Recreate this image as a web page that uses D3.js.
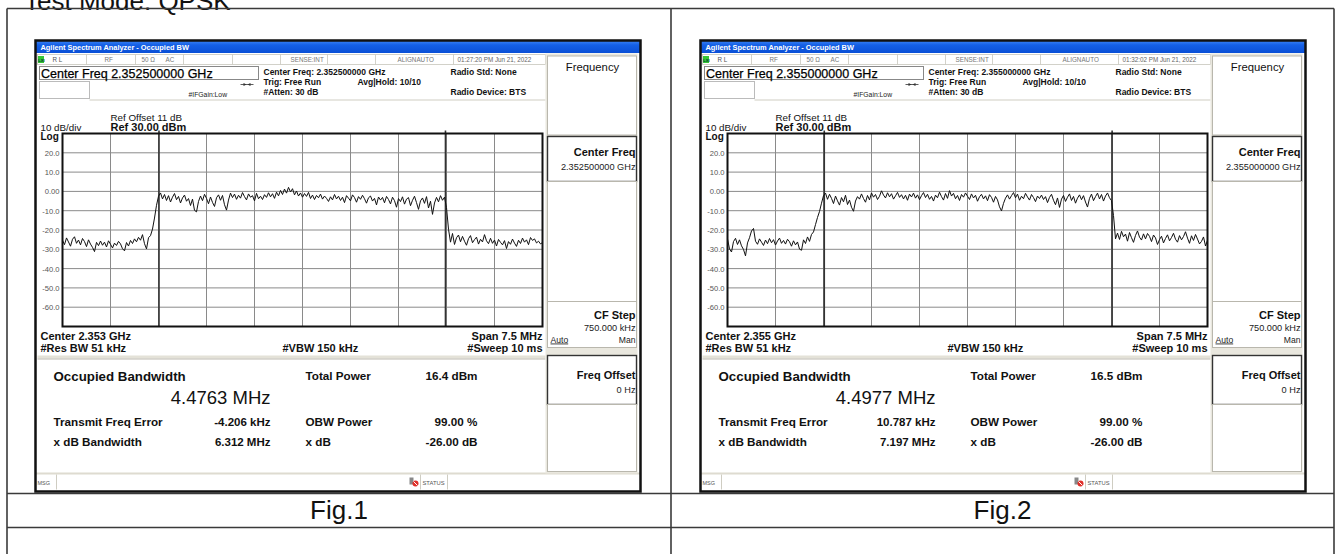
<!DOCTYPE html>
<html><head><meta charset="utf-8">
<script src="https://cdn.jsdelivr.net/npm/d3@7"></script>
<style>
body{margin:0;background:#fff;}
svg{display:block;}
text{font-family:"Liberation Sans",Arial,sans-serif;}
</style>
</head><body>
<svg id="c" width="1338" height="554"></svg>
<script>
// ---------------- data ----------------
const pageTitle = "Test Mode: QPSK";
const figLabels = ["Fig.1", "Fig.2"];
const centerFreqText = ["2.352500000", "2.355000000"];
const centerShortText = ["2.353", "2.355"];
const timestamps = ["01:27:20 PM Jun 21, 2022", "01:32:02 PM Jun 21, 2022"];
const spanMHz = 7.5;
const yDomain = [-70, 30];
const yTicks = [20, 10, 0, -10, -20, -30, -40, -50, -60];
const yTickLabels = ["20.0", "10.0", "0.00", "-10.0", "-20.0", "-30.0", "-40.0", "-50.0", "-60.0"];
const obwMHz = [4.4763, 4.4977];
const obwText = ["4.4763 MHz", "4.4977 MHz"];
const freqErrKHz = [-4.206, 10.787];
const freqErrText = ["-4.206 kHz", "10.787 kHz"];
const xdbBwText = ["6.312 MHz", "7.197 MHz"];
const totalPowerText = ["16.4 dBm", "16.5 dBm"];
const obwPowerText = "99.00 %";
const xdbText = "-26.00 dB";

// trace levels in dBm, 241 sweep points across the span
const trace1 = [
 -25.3,-27.6,-24.1,-26.2,-28.4,-24.8,-23.5,-26.9,-25.2,-27.7,
 -24.4,-26.0,-28.6,-25.1,-27.3,-29.0,-31.2,-26.4,-28.1,-25.7,
 -27.9,-26.3,-28.8,-25.6,-27.4,-29.3,-26.8,-28.0,-25.9,-27.2,
 -29.7,-30.8,-26.5,-28.3,-25.4,-27.0,-24.6,-26.1,-23.8,-25.3,
 -22.4,-27.1,-29.8,-24.0,-22.9,
 -19.5,-13.8,-7.2,-2.5,
 -0.8,-3.9,-1.6,-4.7,-2.2,-5.5,-3.0,-1.1,-4.3,-2.6,
 -6.0,-3.4,-1.9,-5.1,-3.7,-7.3,-4.0,-9.8,-10.6,-5.2,
 -2.4,-4.8,-1.5,-3.6,-6.4,-2.9,-5.7,-7.8,-3.3,-1.8,
 -4.6,-2.1,-6.9,-9.7,-4.5,-0.9,-3.2,-1.4,-4.1,-2.0,
 -3.5,-0.6,-2.7,-4.4,-1.3,-3.0,-2.2,-4.9,-1.0,-3.8,
 -2.5,-4.2,-1.7,-3.1,-0.7,-2.8,-1.2,-3.6,-0.4,-2.3,
 0.5,-1.6,1.2,-0.9,2.1,-0.3,1.4,-1.8,0.2,-2.4,
 -0.8,-3.0,-1.1,-2.6,-0.5,-3.7,-1.9,-4.2,-2.1,-3.3,
 -1.4,-4.0,-2.4,-3.6,-5.2,-2.8,-4.4,-1.6,-3.9,-2.5,
 -4.7,-3.0,-5.8,-2.2,-3.5,-4.9,-1.8,-3.2,-5.6,-2.7,
 -4.1,-2.0,-3.8,-6.1,-3.3,-2.4,-5.0,-3.6,-7.0,-2.9,
 -4.5,-3.1,-5.9,-2.6,-4.2,-6.5,-3.0,-4.8,-8.2,-3.7,
 -5.3,-2.8,-6.6,-4.0,-3.2,-7.4,-4.6,-2.5,-5.8,-9.3,
 -4.9,-3.4,-6.2,-2.7,-8.6,-5.1,-11.9,-6.0,-3.1,-5.4,
 -2.2,-4.6,-3.0,
 -8.4,-19.6,-26.3,
 -21.8,-27.5,-24.0,-22.6,-26.1,-23.3,-25.8,-27.9,-24.5,-22.9,
 -26.6,-25.0,-23.7,-27.3,-24.8,-26.2,-22.4,-25.6,-27.1,-24.3,
 -26.9,-25.2,-28.3,-24.9,-26.4,-27.7,-25.5,-29.6,-26.0,-27.4,
 -24.7,-26.8,-28.5,-25.3,-27.0,-24.2,-26.3,-25.1,-27.6,-23.9,
 -25.4,-24.6,-26.7,-25.8,-27.2,-26.5
];
const trace2 = [
 -24.6,-29.8,-31.4,-26.0,-24.3,-27.5,-25.1,-28.2,-30.1,-33.4,
 -26.7,-24.0,-20.5,-19.2,-25.8,-27.4,-24.6,-26.3,-28.0,-25.2,
 -27.1,-24.4,-26.6,-25.0,-27.8,-25.7,-24.2,-26.9,-25.4,-27.3,
 -24.8,-26.1,-28.4,-25.6,-27.7,-26.2,-29.9,-30.5,-25.1,-27.0,
 -23.6,-25.9,-22.3,
 -21.0,-17.2,-13.5,-10.4,-6.1,
 -2.2,-0.9,-4.1,-1.5,-3.6,-6.3,-2.4,-4.9,-7.1,-3.2,
 -5.4,-2.0,-6.8,-4.5,-8.2,-10.3,-5.0,-2.7,-4.0,-1.3,
 -3.7,-5.6,-2.1,-4.4,-0.8,-3.0,-1.6,-4.2,-2.5,0.3,
 -1.9,-3.4,-0.7,-2.8,-1.2,-4.0,-2.3,-0.5,-3.1,-1.7,
 -3.9,-2.0,-4.6,-1.4,-2.9,-0.9,-3.5,-1.8,-4.3,-2.2,
 -0.6,-3.2,-1.5,-4.1,-2.6,-5.0,-1.9,-3.3,-0.4,-2.7,
 -4.5,-1.1,-3.6,0.4,-2.4,-1.0,-3.8,-2.1,-4.7,-1.6,
 -3.0,-0.8,-2.5,-4.2,-1.3,-3.4,-2.0,-5.1,-2.8,-1.5,
 -3.9,-2.3,-4.8,-1.7,-3.1,-5.6,-2.6,-4.4,-8.0,-10.1,
 -6.2,-3.5,-1.8,-4.0,-2.2,-0.6,-3.3,-1.4,-4.6,-2.5,
 -3.8,-1.0,-2.9,-4.5,-1.6,-3.2,-5.3,-2.4,-3.7,-1.9,
 -4.2,-2.7,-5.8,-3.1,-1.5,-4.6,-6.9,-3.4,-8.3,-4.0,
 -2.1,-5.2,-3.0,-1.3,-4.7,-2.6,-6.1,-3.5,-1.8,-4.3,
 -2.2,-5.5,-8.1,-3.6,-1.4,-4.8,-2.7,-0.9,-3.9,-1.6,
 -5.0,-2.4,-0.8,-3.3,
 -4.8,-12.5,-24.6,
 -21.6,-24.9,-20.7,-23.5,-22.1,-25.8,-21.3,-24.0,-26.4,-22.8,
 -20.5,-23.7,-25.2,-22.0,-24.6,-21.8,-23.3,-26.0,-22.6,-24.1,
 -27.5,-25.0,-23.2,-26.7,-24.4,-22.5,-25.6,-23.9,-21.7,-24.8,
 -26.3,-22.9,-25.1,-23.4,-20.9,-24.2,-26.9,-23.0,-25.4,-22.3,
 -24.7,-27.2,-25.9,-23.6,-28.3,-25.3
];
const traces = [trace1, trace2];

// ---------------- page & table ----------------
const svg = d3.select("#c");
svg.append("text").attr("x", 24).attr("y", 10).attr("font-size", 26).attr("fill", "#111").text(pageTitle);

const T = {l: 7, r: 1334, t: 8.5, mid: 671, r1: 493.5, r2: 527.5, b: 560};
const tg = svg.append("g").attr("stroke", "#3a3a3a").attr("stroke-width", 1.6).attr("fill", "none");
tg.append("line").attr("x1", T.l).attr("x2", T.r).attr("y1", T.t).attr("y2", T.t);
tg.append("line").attr("x1", T.l).attr("x2", T.r).attr("y1", T.r1).attr("y2", T.r1);
tg.append("line").attr("x1", T.l).attr("x2", T.r).attr("y1", T.r2).attr("y2", T.r2);
[T.l, T.mid, T.r].forEach(x => tg.append("line").attr("x1", x).attr("x2", x).attr("y1", T.t).attr("y2", T.b));

figLabels.forEach((f, k) => {
  const cx = k === 0 ? (T.l + T.mid) / 2 : (T.mid + T.r) / 2;
  svg.append("text").attr("x", cx).attr("y", 519).attr("text-anchor", "middle")
     .attr("font-size", 26).attr("fill", "#111").text(f);
});

// ---------------- gradient ----------------
const defs = svg.append("defs");
const grad = defs.append("linearGradient").attr("id", "tb").attr("x1", 0).attr("x2", 0).attr("y1", 0).attr("y2", 1);
grad.append("stop").attr("offset", "0%").attr("stop-color", "#3d86f5");
grad.append("stop").attr("offset", "35%").attr("stop-color", "#1560e6");
grad.append("stop").attr("offset", "100%").attr("stop-color", "#0a4fd6");

function txt(g, x, y, s, size, opts = {}) {
  const t = g.append("text").attr("x", x).attr("y", y).attr("font-size", size)
    .attr("fill", opts.fill || "#111").text(s);
  if (opts.bold) t.attr("font-weight", "bold");
  if (opts.anchor) t.attr("text-anchor", opts.anchor);
  if (opts.deco) t.attr("text-decoration", opts.deco);
  return t;
}

function drawScreen(x0, y0, k) {
  const W = 605, H = 451;
  const g = svg.append("g").attr("transform", `translate(${x0},${y0})`);
  g.append("rect").attr("width", W).attr("height", H).attr("fill", "#fff");

  // title bar
  g.append("rect").attr("x", 0).attr("y", 0).attr("width", W).attr("height", 12.5).attr("fill", "url(#tb)");
  txt(g, 5, 9.3, "Agilent Spectrum Analyzer - Occupied BW", 7.4, {bold: true, fill: "#fff"});

  // status row
  const sr = g.append("g");
  sr.append("rect").attr("x", 2).attr("y", 14).attr("width", 508).attr("height", 10).attr("fill", "#fff").attr("stroke", "#c8c6bc").attr("stroke-width", 0.8);
  sr.append("rect").attr("x", 2.5).attr("y", 15.5).attr("width", 6).attr("height", 7).attr("fill", "#36c636");
  txt(sr, 2.8, 21.5, "LXI", 4, {bold: true, fill: "#033"});
  const sty = {fill: "#777"};
  txt(sr, 17, 21.8, "R L", 6.3, {fill: "#555"});
  txt(sr, 69, 21.8, "RF", 6.3, sty);
  txt(sr, 106, 21.8, "50 Ω", 6.3, sty);
  txt(sr, 130, 21.8, "AC", 6.3, sty);
  txt(sr, 255, 21.8, "SENSE:INT", 6.3, sty);
  txt(sr, 362, 21.8, "ALIGNAUTO", 6.3, sty);
  txt(sr, 422, 21.8, timestamps[k], 6.3, {fill: "#666"});
  [51, 100, 148, 197, 245, 292, 340, 418].forEach(x =>
    sr.append("line").attr("x1", x).attr("x2", x).attr("y1", 14).attr("y2", 24).attr("stroke", "#c8c6bc").attr("stroke-width", 0.8));

  // center freq box
  g.append("rect").attr("x", 4).attr("y", 26).attr("width", 219).attr("height", 13).attr("fill", "#fff").attr("stroke", "#888").attr("stroke-width", 1);
  txt(g, 5.5, 37.2, `Center Freq ${centerFreqText[k]} GHz`, 12.5, {fill: "#000"}).attr("stroke", "#000").attr("stroke-width", 0.25);
  g.append("rect").attr("x", 4).attr("y", 41).attr("width", 50).attr("height", 17).attr("fill", "#fff").attr("stroke", "#bbb").attr("stroke-width", 1);
  txt(g, 153, 56, "#IFGain:Low", 6.8, {fill: "#222"});
  g.append("line").attr("x1", 205).attr("x2", 218).attr("y1", 44).attr("y2", 44).attr("stroke", "#333").attr("stroke-width", 0.8);
  g.append("path").attr("d", "M208,42.5 L211,44 L208,45.5 Z M215,42.5 L212,44 L215,45.5 Z").attr("fill", "#333");

  txt(g, 228, 34, `Center Freq: ${centerFreqText[k]} GHz`, 8.5, {bold: true});
  txt(g, 228, 44, "Trig: Free Run", 8.5, {bold: true});
  txt(g, 322, 44, "Avg|Hold: 10/10", 8.5, {bold: true});
  txt(g, 228, 54, "#Atten: 30 dB", 8.5, {bold: true});
  txt(g, 415, 34, "Radio Std: None", 8.5, {bold: true});
  txt(g, 415, 54, "Radio Device: BTS", 8.5, {bold: true});
  g.append("line").attr("x1", 54).attr("x2", 510).attr("y1", 59.5).attr("y2", 59.5).attr("stroke", "#cfcdc2").attr("stroke-width", 1);

  // ref labels
  txt(g, 75, 80, "Ref Offset 11 dB", 9.8);
  txt(g, 5, 90.5, "10 dB/div", 9.8);
  txt(g, 75, 90.5, "Ref 30.00 dBm", 11, {bold: true});
  txt(g, 5, 99, "Log", 10, {bold: true});

  // plot
  const P = {l: 27, r: 507, t: 93, b: 286};
  const x = d3.scaleLinear().domain([-spanMHz / 2, spanMHz / 2]).range([P.l, P.r]);
  const y = d3.scaleLinear().domain(yDomain).range([P.b, P.t]);
  const pg = g.append("g");
  pg.append("rect").attr("x", P.l).attr("y", P.t).attr("width", P.r - P.l).attr("height", P.b - P.t).attr("fill", "#fff");
  const vgrid = d3.range(1, 10).map(i => -spanMHz / 2 + i * spanMHz / 10);
  pg.selectAll(".vg").data(vgrid).join("line")
    .attr("x1", d => x(d)).attr("x2", d => x(d)).attr("y1", P.t).attr("y2", P.b)
    .attr("stroke", "#8a8a8a").attr("stroke-width", 1);
  pg.selectAll(".hg").data(yTicks).join("line")
    .attr("x1", P.l).attr("x2", P.r).attr("y1", d => y(d)).attr("y2", d => y(d))
    .attr("stroke", "#8a8a8a").attr("stroke-width", 1);
  // OBW markers
  const c = freqErrKHz[k] / 1000;
  [c - obwMHz[k] / 2, c + obwMHz[k] / 2].forEach(f =>
    pg.append("line").attr("x1", x(f)).attr("x2", x(f)).attr("y1", P.t - 3).attr("y2", P.b)
      .attr("stroke", "#333").attr("stroke-width", 1.6));
  // y tick labels
  yTicks.forEach((t, i) => txt(g, 24, y(t) + 3, yTickLabels[i], 7.6, {anchor: "end", fill: "#555"}));
  // trace
  const tr = traces[k];
  const n = tr.length;
  const line = d3.line().x((d, i) => x(-spanMHz / 2 + i * spanMHz / (n - 1))).y(d => y(d));
  pg.append("path").attr("d", line(tr)).attr("fill", "none").attr("stroke", "#111").attr("stroke-width", 1);
  pg.append("rect").attr("x", P.l).attr("y", P.t).attr("width", P.r - P.l).attr("height", P.b - P.t)
    .attr("fill", "none").attr("stroke", "#111").attr("stroke-width", 2);

  // below plot
  txt(g, 5, 299, `Center  ${centerShortText[k]} GHz`, 11, {bold: true});
  txt(g, 5, 311, "#Res BW  51 kHz", 11, {bold: true});
  txt(g, 247, 311, "#VBW  150 kHz", 11, {bold: true});
  txt(g, P.r, 299, "Span 7.5 MHz", 11, {bold: true, anchor: "end"});
  txt(g, P.r, 311, "#Sweep  10 ms", 11, {bold: true, anchor: "end"});

  // results separator
  g.append("rect").attr("x", 2).attr("y", 315).attr("width", 508).attr("height", 3).attr("fill", "#e4e2d8");
  g.append("line").attr("x1", 2).attr("x2", 510).attr("y1", 318.5).attr("y2", 318.5).attr("stroke", "#bdbab0").attr("stroke-width", 1);

  txt(g, 18, 340, "Occupied Bandwidth", 13.3, {bold: true});
  txt(g, 235, 363, obwText[k], 18.5, {anchor: "end"});
  txt(g, 18, 385, "Transmit Freq Error", 11.7, {bold: true});
  txt(g, 235, 385, freqErrText[k], 11.5, {bold: true, anchor: "end"});
  txt(g, 18, 405, "x dB Bandwidth", 11.7, {bold: true});
  txt(g, 235, 405, xdbBwText[k], 11.5, {bold: true, anchor: "end"});
  txt(g, 270, 339, "Total Power", 11.7, {bold: true});
  txt(g, 442, 339, totalPowerText[k], 11.7, {bold: true, anchor: "end"});
  txt(g, 270, 385, "OBW Power", 11.7, {bold: true});
  txt(g, 442, 385, obwPowerText, 11.7, {bold: true, anchor: "end"});
  txt(g, 270, 405, "x dB", 11.7, {bold: true});
  txt(g, 442, 405, xdbText, 11.7, {bold: true, anchor: "end"});

  // bottom status bar
  g.append("rect").attr("x", 0).attr("y", 432).attr("width", W).attr("height", 2).attr("fill", "#dedbd0");
  g.append("line").attr("x1", 21).attr("x2", 21).attr("y1", 434).attr("y2", 449).attr("stroke", "#cfcdc2");
  g.append("line").attr("x1", 385).attr("x2", 385).attr("y1", 434).attr("y2", 449).attr("stroke", "#cfcdc2");
  g.append("line").attr("x1", 412).attr("x2", 412).attr("y1", 434).attr("y2", 449).attr("stroke", "#cfcdc2");
  txt(g, 2, 444, "MSG", 5.5, {fill: "#555"});
  g.append("rect").attr("x", 374).attr("y", 437).attr("width", 4).attr("height", 7).attr("fill", "#888");
  g.append("circle").attr("cx", 380).attr("cy", 443).attr("r", 3).attr("fill", "#e0302a");
  g.append("line").attr("x1", 378).attr("x2", 382).attr("y1", 441).attr("y2", 445).attr("stroke", "#fff").attr("stroke-width", 1);
  txt(g, 387, 444, "STATUS", 5.8, {fill: "#555"});

  // right panel (softkeys)
  const R = {l: 510, r: 602};
  g.append("rect").attr("x", R.l).attr("y", 13).attr("width", R.r - R.l).attr("height", 420).attr("fill", "#e9e7de");
  const keys = [
    {y0: 15.5, y1: 94.5, dark: false},
    {y0: 96, y1: 141, dark: true},
    {y0: 141, y1: 261, dark: false},
    {y0: 261, y1: 307, dark: false},
    {y0: 315, y1: 364, dark: true},
    {y0: 364, y1: 431, dark: false}
  ];
  keys.forEach(kk => g.append("rect").attr("x", R.l + 2).attr("y", kk.y0).attr("width", R.r - R.l - 3)
    .attr("height", kk.y1 - kk.y0).attr("fill", "#fff")
    .attr("stroke", kk.dark ? "#333" : "#b9b7ad").attr("stroke-width", kk.dark ? 1.4 : 1));
  txt(g, (R.l + R.r) / 2 + 1, 30, "Frequency", 11.3, {anchor: "middle"});
  txt(g, R.r - 2, 115, "Center Freq", 11, {bold: true, anchor: "end"});
  txt(g, R.r - 2, 129, `${centerFreqText[k]} GHz`, 9.2, {anchor: "end", fill: "#222"});
  txt(g, R.r - 2, 278, "CF Step", 11, {bold: true, anchor: "end"});
  txt(g, R.r - 2, 290, "750.000 kHz", 9.2, {anchor: "end", fill: "#222"});
  txt(g, R.l + 5, 302, "Auto", 8.6, {deco: "underline", fill: "#222"});
  txt(g, R.r - 2, 302, "Man", 8.6, {anchor: "end", fill: "#222"});
  txt(g, R.r - 2, 338, "Freq Offset", 11, {bold: true, anchor: "end"});
  txt(g, R.r - 2, 352, "0 Hz", 9.2, {anchor: "end", fill: "#222"});

  // outer frame
  g.append("rect").attr("x", 0).attr("y", 0).attr("width", W).attr("height", H)
    .attr("fill", "none").attr("stroke", "#111").attr("stroke-width", 2.5);
}

drawScreen(35.5, 40.5, 0);
drawScreen(700.5, 40.5, 1);
</script>
</body></html>
